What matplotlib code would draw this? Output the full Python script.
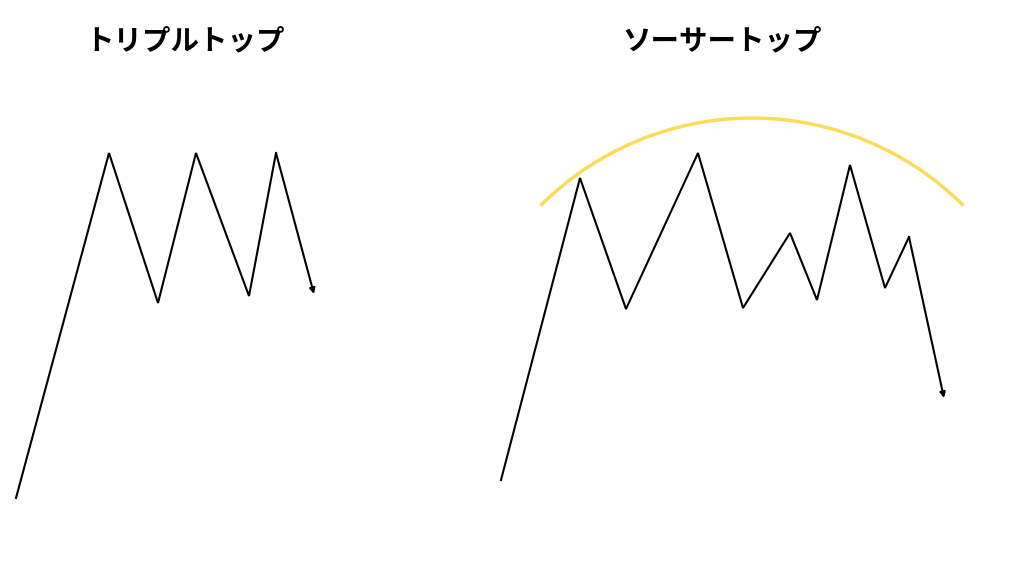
import matplotlib.pyplot as plt
import numpy as np
from matplotlib.patches import Arc

plt.rcParams['font.family'] = ['Noto Sans CJK JP', 'DejaVu Sans']

# price paths (canvas pixel units, y downward)
triple_x = [16, 109, 158, 196, 249, 276, 314]
triple_y = [498, 153, 303, 153, 296, 153, 294]

saucer_x = [501, 580, 626, 698, 743, 790, 817, 850, 885, 909, 944]
saucer_y = [480, 178, 309, 153, 308, 233, 300, 165, 288, 237, 398]

# saucer arc: center, radius, angle span
arc_center = (752, 417)
arc_radius = 299
arc_span = (45, 135)

titles = ['トリプルトップ', 'ソーサートップ']
title_x = [185, 722]


def draw_path(ax, xs, ys):
    ax.plot(xs[:-1], ys[:-1], color='black', linewidth=1.5, solid_joinstyle='miter')
    ax.annotate('', xy=(xs[-1], ys[-1]), xytext=(xs[-2], ys[-2]),
                arrowprops=dict(arrowstyle='-|>', color='black', lw=1.5,
                                mutation_scale=8, shrinkA=0, shrinkB=0))


fig = plt.figure(figsize=(10.24, 5.76), dpi=100)
ax = fig.add_axes([0, 0, 1, 1])
ax.set_xlim(0, 1024)
ax.set_ylim(576, 0)
ax.axis('off')

draw_path(ax, triple_x, triple_y)
draw_path(ax, saucer_x, saucer_y)

# y axis is inverted, so flip angles
ax.add_patch(Arc(arc_center, 2 * arc_radius, 2 * arc_radius,
                 theta1=360 - arc_span[1], theta2=360 - arc_span[0],
                 color='#f9dc5c', linewidth=2.5))

for t, x in zip(titles, title_x):
    ax.text(x, 41, t, ha='center', va='center', fontsize=20.5, fontweight='bold')

fig.savefig('out.png', dpi=100)
